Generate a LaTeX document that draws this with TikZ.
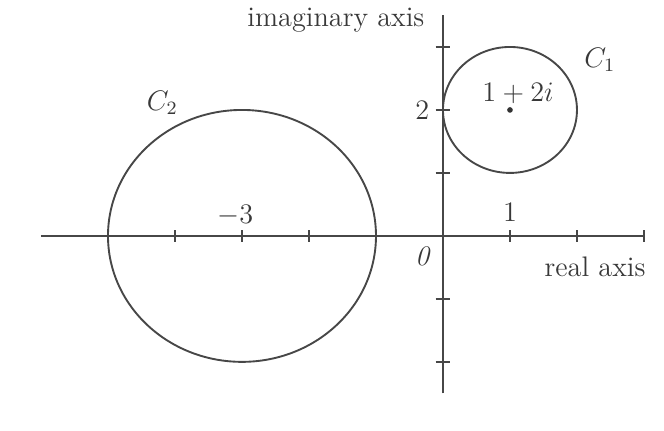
\documentclass[tikz,border=0pt]{standalone}
\begin{document}
\begin{tikzpicture}[x=1cm,y=0.94cm,
  ln/.style={line width=0.8pt,draw=black!72},
  lbl/.style={font=\large,text=black!78,inner sep=0pt}]
\useasboundingbox (-6.612,-3.095) rectangle (3.299,3.746);
% axes
\coordinate (xl) at (-6,0);
\coordinate (xr) at (3,0);
\coordinate (yb) at (0,-2.5);
\coordinate (yt) at (0,3.5);
\draw[ln] (xl) -- (xr);
\draw[ln] (yb) -- (yt);
% ticks
\foreach \i in {-5,-4,-3,-2,-1,1,2,3}
  \draw[ln] (\i,-0.09) -- (\i,0.09);
\foreach \j in {-2,-1,1,2,3}
  \draw[ln] (-0.11,\j) -- (0.11,\j);
% circles
\coordinate (c1) at (1,2);
\coordinate (c2) at (-3,0);
\draw[ln] (c1) ellipse [x radius=1cm, y radius=0.94cm];
\draw[ln] (c2) ellipse [x radius=2cm, y radius=1.88cm];
\fill[black!80] (c1) circle (1.2pt);
% labels
\node[lbl,anchor=east] (ima) at (-0.27,3.43) {imaginary axis};
\node[lbl] (rea) at (2.27,-0.49) {real axis};
\node[lbl] (C1) at (2.34,2.79) {$C_1$};
\node[lbl] (C2) at (-4.19,2.11) {$C_2$};
\node[lbl] (z) at (1.12,2.27) {$1+2i$};
\node[lbl] (two) at (-0.31,2.0) {$2$};
\node[lbl] (one) at (1,0.37) {$1$};
\node[lbl] (m3) at (-3.1,0.33) {$-3$};
\node[lbl] (o) at (-0.3,-0.32) {\textit{0}};
\end{tikzpicture}
\end{document}
